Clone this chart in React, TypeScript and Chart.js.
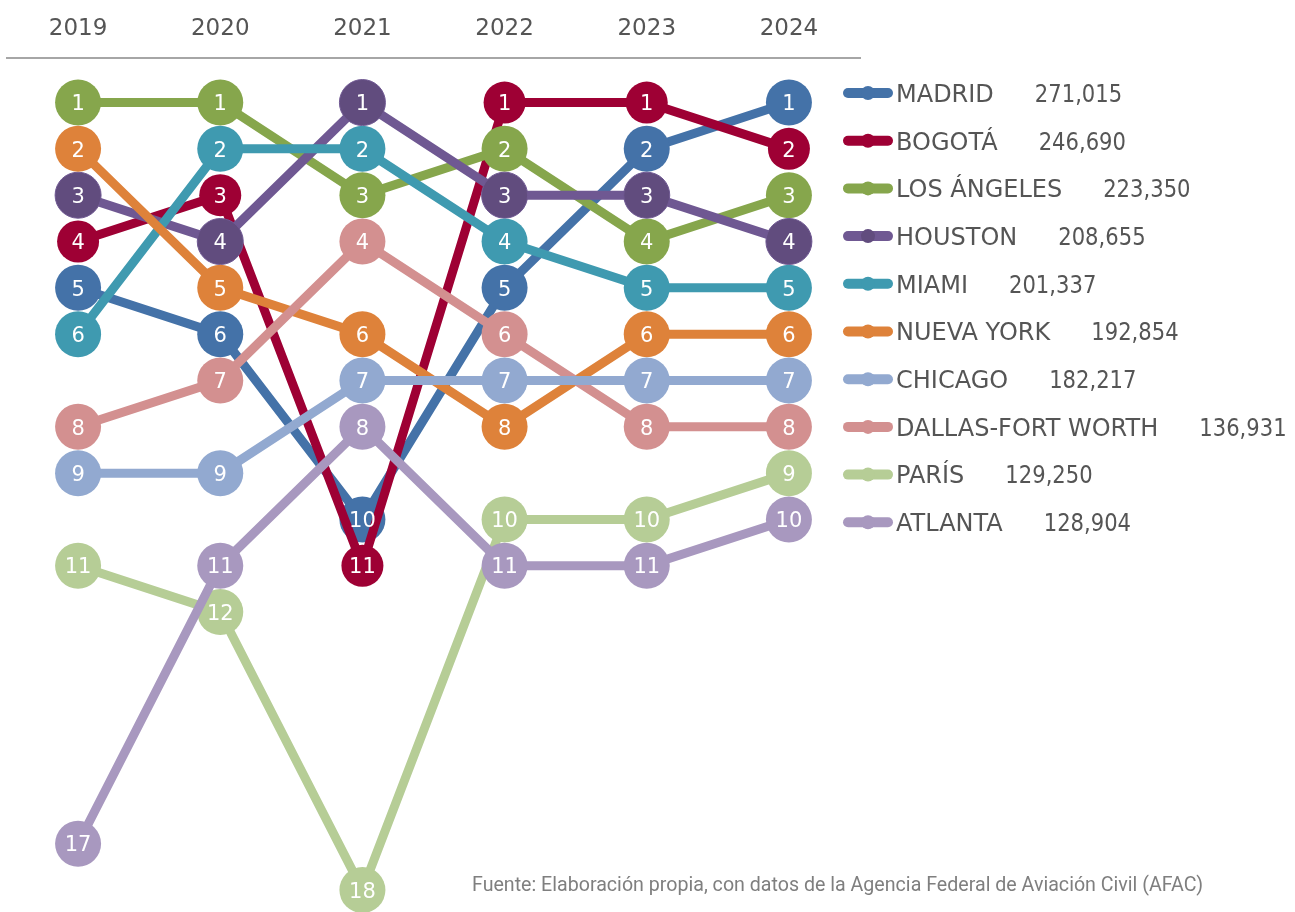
import React, { useEffect, useRef } from "react";
import { Chart, registerables } from "chart.js";

Chart.register(...registerables);

const YEARS = ["2019", "2020", "2021", "2022", "2023", "2024"];
const CITIES = [
  "MADRID",
  "BOGOTÁ",
  "LOS ÁNGELES",
  "HOUSTON",
  "MIAMI",
  "NUEVA YORK",
  "CHICAGO",
  "DALLAS-FORT WORTH",
  "PARÍS",
  "ATLANTA",
];
const PASSENGERS = [
  "271,015",
  "246,690",
  "223,350",
  "208,655",
  "201,337",
  "192,854",
  "182,217",
  "136,931",
  "129,250",
  "128,904",
];

const MADRID = [5, 6, 10, 5, 2, 1];
const BOGOTA = [4, 3, 11, 1, 1, 2];
const LOS_ANGELES = [1, 1, 3, 2, 4, 3];
const HOUSTON = [3, 4, 1, 3, 3, 4];
const MIAMI = [6, 2, 2, 4, 5, 5];
const NUEVA_YORK = [2, 5, 6, 8, 6, 6];
const CHICAGO = [9, 9, 7, 7, 7, 7];
const DALLAS = [8, 7, 4, 6, 8, 8];
const PARIS = [11, 12, 18, 10, 10, 9];
const ATLANTA = [17, 11, 8, 11, 11, 10];

const RANKS = [MADRID, BOGOTA, LOS_ANGELES, HOUSTON, MIAMI, NUEVA_YORK, CHICAGO, DALLAS, PARIS, ATLANTA];

const LINE_COLORS = [
  "#4472A8",
  "#9E0034",
  "#86A64C",
  "#6F5892",
  "#3F9AB0",
  "#DE823A",
  "#92A9D0",
  "#D39090",
  "#B6CD96",
  "#A898BF",
];
const MARKER_COLORS = [
  "#4472A8",
  "#9E0034",
  "#86A64C",
  "#614C7E",
  "#3F9AB0",
  "#DE823A",
  "#92A9D0",
  "#D39090",
  "#B6CD96",
  "#A898BF",
];
const MARKER_RADIUS = [23, 21, 23, 23, 23, 23, 23, 23, 23, 23];
// stacking from bottom to top (index into CITIES)
const STACK = [0, 1, 2, 3, 4, 5, 7, 6, 8, 9];

const SOURCE = "Fuente: Elaboración propia, con datos de la Agencia Federal de Aviación Civil (AFAC)";

const FONT = "'DejaVu Sans', sans-serif";

const markerLabels = {
  id: "markerLabels",
  afterDatasetsDraw(chart: any) {
    const ctx = chart.ctx;
    ctx.save();
    ctx.fillStyle = "#FFFFFF";
    ctx.font = `21px ${FONT}`;
    ctx.textAlign = "center";
    ctx.textBaseline = "alphabetic";
    const metas = chart.getSortedVisibleDatasetMetas().slice().reverse();
    metas.forEach((meta: any) => {
      const ds = chart.data.datasets[meta.index];
      meta.data.forEach((pt: any, j: number) => {
        const v = ds.data[j];
        ctx.fillText(String(v), pt.x, pt.y + 7.7);
      });
    });
    ctx.restore();
  },
};

const sideLegend = {
  id: "sideLegend",
  afterDraw(chart: any) {
    const ctx = chart.ctx;
    ctx.save();
    const x0 = 848;
    const x1 = 888;
    const cx = 868;
    const textX = 896;
    CITIES.forEach((name, i) => {
      const y = 93 + i * 47.7;
      ctx.strokeStyle = LINE_COLORS[i];
      ctx.lineWidth = 10;
      ctx.lineCap = "round";
      ctx.beginPath();
      ctx.moveTo(x0, y);
      ctx.lineTo(x1, y);
      ctx.stroke();
      ctx.fillStyle = MARKER_COLORS[i];
      ctx.beginPath();
      ctx.arc(cx, y, 7, 0, Math.PI * 2);
      ctx.fill();
      ctx.fillStyle = "#555555";
      ctx.font = `24px ${FONT}`;
      ctx.textAlign = "left";
      ctx.textBaseline = "alphabetic";
      ctx.fillText(name, textX, y + 8.8);
      const w = ctx.measureText(name).width;
      const vw = ctx.measureText(PASSENGERS[i]).width;
      ctx.fillText(PASSENGERS[i], textX + w + 41, y + 8.8, vw * 0.88);
    });
    ctx.fillStyle = "#7F7F7F";
    ctx.font = "21px 'Liberation Sans Narrow', 'Roboto', sans-serif";
    ctx.textAlign = "left";
    ctx.fillText(SOURCE, 472, 891, 731);
    ctx.restore();
  },
};

export default function App() {
  const canvasRef = useRef<HTMLCanvasElement | null>(null);

  useEffect(() => {
    if (!canvasRef.current) return;
    const datasets = RANKS.map((ranks, i) => ({
      label: CITIES[i],
      data: ranks,
      borderColor: LINE_COLORS[i],
      borderWidth: 9,
      backgroundColor: MARKER_COLORS[i],
      pointBackgroundColor: MARKER_COLORS[i],
      pointBorderColor: LINE_COLORS[i],
      pointBorderWidth: i === 3 ? 1 : 0,
      pointRadius: MARKER_RADIUS[i],
      pointHoverRadius: MARKER_RADIUS[i],
      tension: 0,
      fill: false,
      clip: false as any,
      order: 10 - STACK.indexOf(i),
    }));
    const chart = new Chart(canvasRef.current, {
      type: "line",
      data: { labels: YEARS, datasets },
      options: {
        animation: false,
        responsive: true,
        maintainAspectRatio: false,
        events: [],
        layout: { autoPadding: false, padding: { top: 0, left: 7, right: 435, bottom: 2 } },
        plugins: {
          legend: { display: false },
          tooltip: { enabled: false },
          title: { display: false },
        },
        scales: {
          x: {
            position: "top",
            offset: true,
            grid: { display: false, drawTicks: false },
            border: { display: true, color: "#A6A6A6", width: 2 },
            ticks: {
              color: "#555555",
              font: { family: FONT, size: 23 },
              padding: 15,
            },
          },
          y: {
            display: false,
            reverse: true,
            min: 0.03,
            max: 18.43,
          },
        },
      },
      plugins: [markerLabels, sideLegend],
    });
    return () => chart.destroy();
  }, []);

  return (
    <div style={{ position: "absolute", left: 0, top: 0, width: 1295, height: 912, background: "#FFFFFF" }}>
      <canvas ref={canvasRef} />
    </div>
  );
}
